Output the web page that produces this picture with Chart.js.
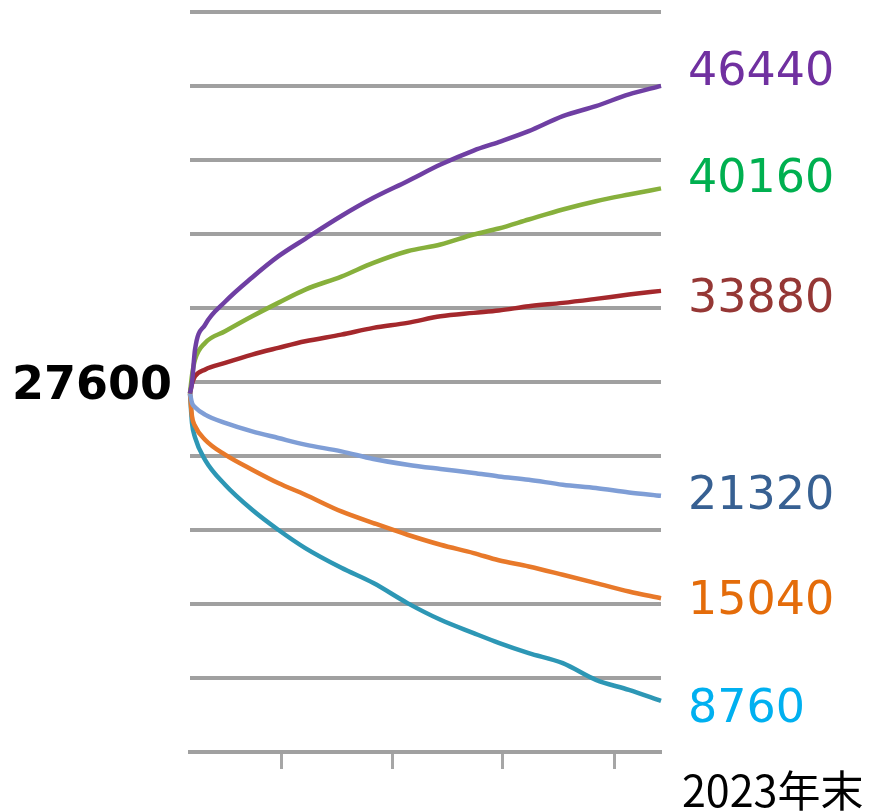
<!DOCTYPE html>
<html>
<head>
<meta charset="utf-8">
<script src="https://cdn.jsdelivr.net/npm/chart.js@4/dist/chart.umd.min.js"></script>
<style>
  html, body { margin: 0; padding: 0; background: #ffffff; }
  #wrap { width: 875px; height: 811px; position: relative; }
</style>
</head>
<body>
<div id="wrap"><canvas id="c" width="875" height="811"></canvas></div>
<script>
// ---- data ----
const xs = [0, 2, 5, 15, 35, 62, 88, 115, 151, 183, 217, 250, 283, 308, 338, 372, 405, 438, 470];
const purpleSeries = [27600, 28256, 30280, 31800, 33210, 34700, 35990, 37070, 38470, 39584, 40602, 41620, 42480, 43000, 43668, 44588, 45202, 45919, 46440];
const greenSeries  = [27600, 28700, 29667, 30691, 31402, 32322, 33144, 33960, 34757, 35597, 36309, 36720, 37333, 37701, 38253, 38866, 39375, 39786, 40160];
const redSeries    = [27600, 28200, 28643, 29054, 29464, 29973, 30384, 30789, 31200, 31611, 31918, 32322, 32531, 32672, 32936, 33144, 33390, 33653, 33880];
const blueSeries   = [27600, 27011, 26750, 26294, 25785, 25269, 24865, 24454, 24043, 23577, 23227, 22963, 22718, 22510, 22307, 22001, 21798, 21528, 21320];
const orangeSeries = [27600, 26189, 25600, 24760, 23840, 22921, 22105, 21387, 20363, 19652, 18934, 18321, 17812, 17370, 16990, 16481, 15972, 15457, 15040];
const tealSeries   = [27600, 25785, 24900, 23530, 22001, 20467, 19241, 18118, 16910, 15972, 14745, 13721, 12905, 12310, 11679, 11065, 10041, 9428, 8760];
const endLabels = ['46440', '40160', '33880', '21320', '15040', '8760'];
const startLabel = '27600';
const startValue = 27600;
const xTickValues = [91, 202, 312, 424];
const yGridValues = [5620, 10155, 14690, 19225, 23760, 28295, 32830, 37365, 41900, 46435, 50970];
const xEndLabel = '2023年末';

// ---- styles ----
const lineColors  = ['#6f3fa3', '#87b03c', '#a4282c', '#7f9ed6', '#e8792a', '#2d97b5'];
const labelColors = ['#7030a0', '#00b050', '#953735', '#376092', '#e46c0a', '#00b0f0'];
const labelOffsets = [-1, 4, 21, 13, 16, 21]; // baseline offset from value pixel
const allSeries = [purpleSeries, greenSeries, redSeries, blueSeries, orangeSeries, tealSeries];

const datasets = allSeries.map((s, i) => ({
  data: xs.map((x, j) => ({ x: x, y: s[j] })),
  borderColor: lineColors[i],
  borderWidth: 4.5,
  pointRadius: 0,
  cubicInterpolationMode: 'monotone',
  fill: false,
  clip: false
}));

const labelPlugin = {
  id: 'labels',
  afterDatasetsDraw(chart) {
    const ctx = chart.ctx;
    const y = chart.scales.y;
    const area = chart.chartArea;
    ctx.save();
    ctx.textBaseline = 'alphabetic';
    ctx.font = '46px "DejaVu Sans"';
    ctx.textAlign = 'left';
    endLabels.forEach((t, i) => {
      ctx.fillStyle = labelColors[i];
      ctx.fillText(t, area.right + 27, y.getPixelForValue(Number(t)) + labelOffsets[i]);
    });
    ctx.font = 'bold 46px "DejaVu Sans"';
    ctx.textAlign = 'right';
    ctx.fillStyle = '#000000';
    ctx.fillText(startLabel, area.left - 18, y.getPixelForValue(startValue) + 6);
    ctx.font = '43px "Noto Sans CJK JP", "DejaVu Sans"';
    ctx.textAlign = 'left';
    ctx.fillText(xEndLabel, area.right + 21, area.bottom + 55);
    ctx.restore();
  }
};

new Chart(document.getElementById('c').getContext('2d'), {
  type: 'line',
  data: { datasets: datasets },
  options: {
    responsive: false,
    animation: false,
    devicePixelRatio: 1,
    layout: { padding: { left: 190, right: 214, top: 12, bottom: 42 } },
    plugins: { legend: { display: false }, tooltip: { enabled: false } },
    scales: {
      x: {
        type: 'linear', min: 0, max: 470,
        afterBuildTicks: s => { s.ticks = xTickValues.map(v => ({ value: v })); },
        ticks: { display: false },
        grid: { drawOnChartArea: false, drawTicks: true, tickLength: 17, tickColor: '#a6a6a6', tickWidth: 3 },
        border: { display: true, color: '#a0a0a0', width: 4 }
      },
      y: {
        type: 'linear', min: 5620, max: 50970,
        afterBuildTicks: s => { s.ticks = yGridValues.map(v => ({ value: v })); },
        ticks: { display: false },
        grid: { color: '#a0a0a0', lineWidth: 4, drawTicks: false },
        border: { display: false }
      }
    }
  },
  plugins: [labelPlugin]
});
</script>
</body>
</html>
